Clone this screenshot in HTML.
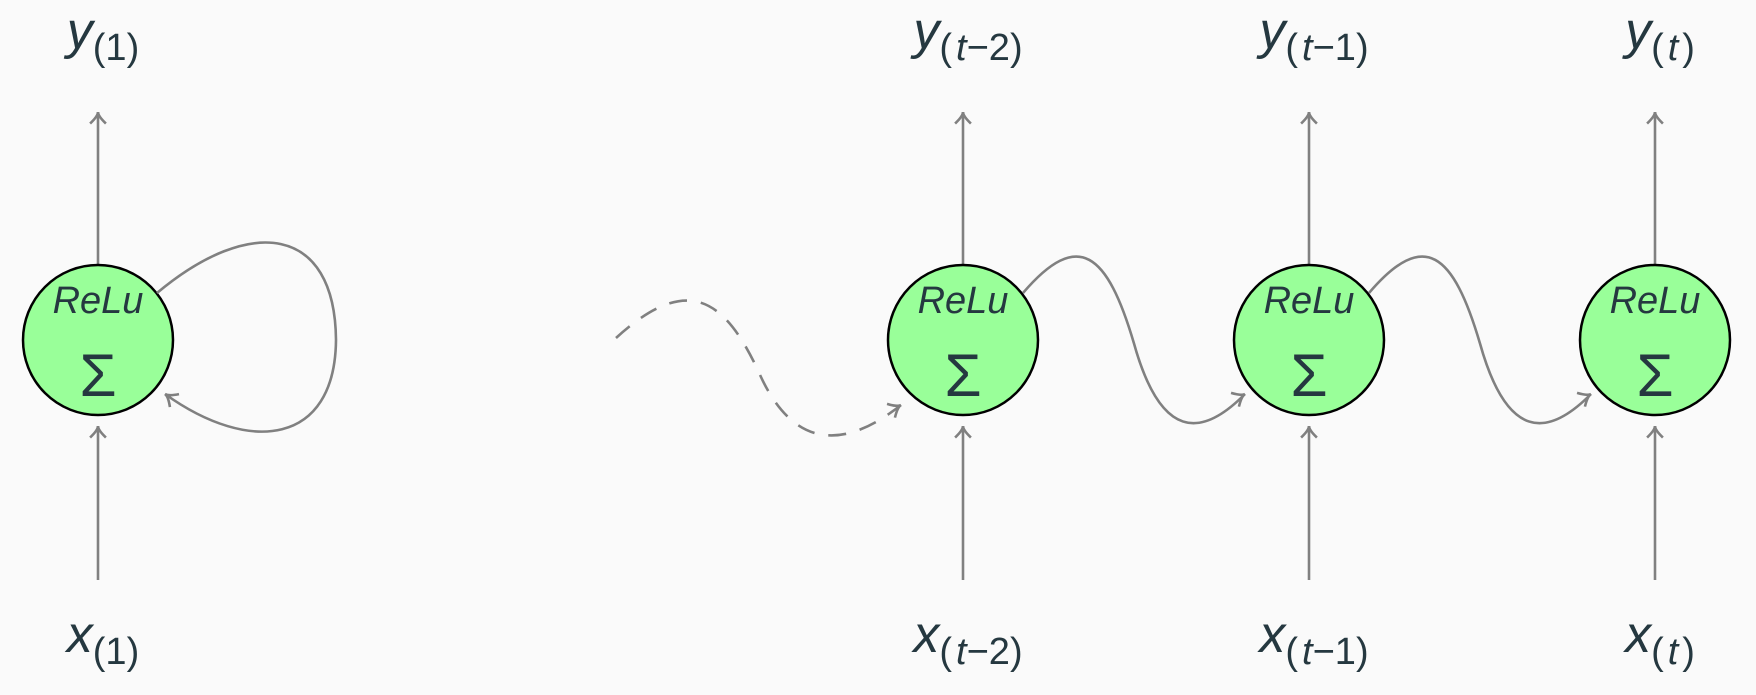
<!DOCTYPE html>
<html><head><meta charset="utf-8"><style>
html,body{margin:0;padding:0;background:#fafafa;}
svg{display:block;}
text{font-family:"Liberation Sans",sans-serif;fill:#253840;}
</style></head><body>
<svg width="1756" height="695" viewBox="0 0 1756 695">
<g id="g"></g>
</svg>
<script>
const nodeX=[98,963,1309,1655];
const subs=['1','t\u22122','t\u22121','t'];
const CY=340,R=75;
const NS='http://www.w3.org/2000/svg';
const g=document.getElementById('g');
function mk(t,a,p){const e=document.createElementNS(NS,t);for(const k in a)e.setAttribute(k,a[k]);(p||g).appendChild(e);return e;}
const st={stroke:'#808080','stroke-width':2.6,fill:'none'};
function arrowHead(x,y,ang){
  const r=ang*Math.PI/180,L=14,w=0.6;
  const p1=[x-L*Math.cos(r-w),y-L*Math.sin(r-w)],p2=[x-L*Math.cos(r+w),y-L*Math.sin(r+w)];
  const e=mk('path',Object.assign({d:`M${p1} Q${x-4*Math.cos(r)},${y-4*Math.sin(r)} ${x},${y} Q${x-4*Math.cos(r)},${y-4*Math.sin(r)} ${p2}`},st));
  
  
}
nodeX.forEach((x,i)=>{
  let l=mk('line',Object.assign({x1:x,y1:CY-R,x2:x,y2:112},st));
  
  
  arrowHead(x,112,-90);
  l=mk('line',Object.assign({x1:x,y1:580,x2:x,y2:426},st));
  
  
  arrowHead(x,426,-90);
  const c=mk('circle',{cx:x,cy:CY,r:R,fill:'#99ff99',stroke:'#000','stroke-width':2.5});
  
  
  let t=mk('text',{x:x,y:CY-27,'text-anchor':'middle','font-size':38,'font-style':'italic'});t.textContent='ReLu';
  
  
  t=mk('text',{x:x,y:CY+56,'text-anchor':'middle','font-size':60,'font-family':'DejaVu Serif, serif'});t.textContent='\u03A3';
  
  
  [['y',48,'output-label'],['x',652,'input-label']].forEach(([v,yy,nm])=>{
    const tt=mk('text',{x:x+5,y:yy,'text-anchor':'middle','font-size':52});
    
    
    const a=mk('tspan',{'font-style':'italic'},tt);a.textContent=v;
    const b=mk('tspan',{'font-size':38,dy:12},tt);b.textContent='(';
    if(subs[i]==='1'){const c2=mk('tspan',{'font-size':38},tt);c2.textContent='1';}
    else{
      const c2=mk('tspan',{'font-size':38,'font-style':'italic',dx:4},tt);c2.textContent='t';
      if(subs[i].length>1){const d=mk('tspan',{'font-size':38},tt);d.textContent=subs[i].slice(1);}
    }
    const e=mk('tspan',{'font-size':38,dx:subs[i]==='t'?4:0},tt);e.textContent=')';
  });
});
let p=mk('path',Object.assign({d:'M157,293 C250,215 335,225 336,340 C335,445 250,455 165,394'},st));


arrowHead(165,394,-145);
function wave(x0,y0,x1,y1,dash){
  const dx=x1-x0;
  const d=`M${x0},${y0} C${x0+dx*0.25},${y0-65} ${x0+dx*0.38},${y0-40} ${x0+dx*0.5},${(y0+y1)/2} C${x0+dx*0.62},${y1+45} ${x0+dx*0.8},${y1+45} ${x1},${y1}`;
  const e=mk('path',Object.assign({d:d},st,dash?{'stroke-dasharray':'18,14'}:{}));
  
  
  arrowHead(x1,y1,-30);
}
wave(616,338,nodeX[1]-62,CY+65,true);
for(let i=1;i<3;i++)wave(nodeX[i]+60,CY-47,nodeX[i+1]-64,CY+54,false);
</script>
</body></html>
